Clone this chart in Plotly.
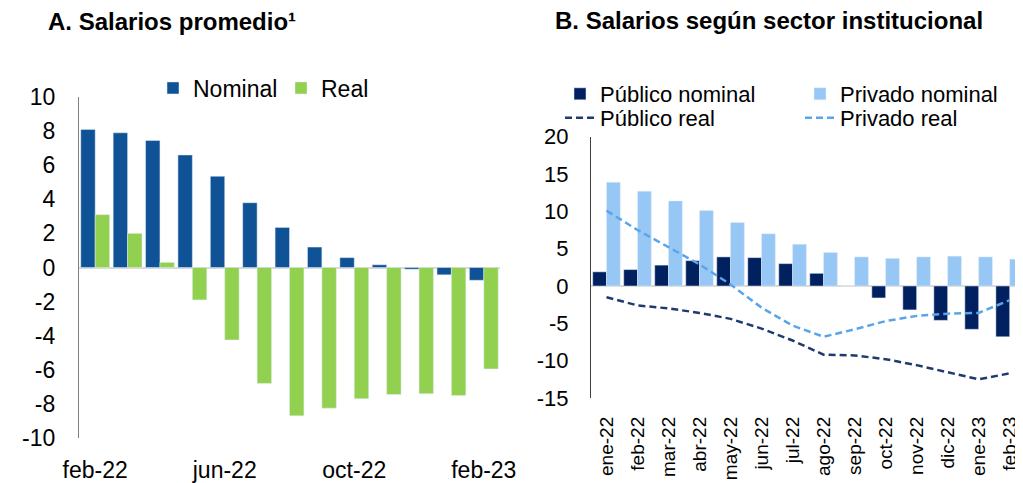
import plotly.graph_objects as go

# ---- Panel A data ----
months_a = ["feb-22", "mar-22", "abr-22", "may-22", "jun-22", "jul-22", "ago-22",
            "sep-22", "oct-22", "nov-22", "dic-22", "ene-23", "feb-23"]
nominal_a = [8.1, 7.9, 7.45, 6.6, 5.35, 3.8, 2.35, 1.2, 0.58, 0.16, -0.1, -0.43, -0.75]
real_a = [3.1, 2.0, 0.3, -1.9, -4.25, -6.8, -8.7, -8.25, -7.7, -7.45, -7.4, -7.5, -5.95]
ticks_a = ["feb-22", "jun-22", "oct-22", "feb-23"]
yvals_a = [-10, -8, -6, -4, -2, 0, 2, 4, 6, 8, 10]
ytext_a = ["-10", "-8", "-6", "-4", "-2", "0", "2", "4", "6", "8", "10"]

# ---- Panel B data ----
months_b = ["ene-22", "feb-22", "mar-22", "abr-22", "may-22", "jun-22", "jul-22",
            "ago-22", "sep-22", "oct-22", "nov-22", "dic-22", "ene-23", "feb-23"]
pub_nominal = [1.9, 2.2, 2.8, 3.4, 3.9, 3.8, 3.0, 1.7, 0.0, -1.6, -3.2, -4.6, -5.8, -6.8]
priv_nominal = [13.9, 12.7, 11.4, 10.1, 8.5, 7.0, 5.6, 4.5, 3.9, 3.7, 3.9, 4.0, 3.9, 3.6]
pub_real = [-1.5, -2.6, -3.0, -3.6, -4.4, -5.7, -7.3, -9.2, -9.3, -9.8, -10.6, -11.5, -12.5, -11.7]
priv_real = [10.1, 7.5, 5.2, 2.9, 0.2, -2.9, -5.3, -6.8, -5.8, -4.7, -4.0, -3.7, -3.6, -1.9]
yvals_b = [-15, -10, -5, 0, 5, 10, 15, 20]
ytext_b = ["-15", "-10", "-5", "0", "5", "10", "15", "20"]

FONT = "Liberation Sans, Arial, sans-serif"
OFF = 8  # page body margin
W, H = 1015, 475


def fx(px):
    return (px - OFF) / W


def fy(py):
    return 1 - (py - OFF) / H


fig = go.Figure()

# Panel A
fig.add_trace(go.Bar(x=months_a, y=nominal_a, name="Nominal", marker_color="#0F5396",
                     xaxis="x", yaxis="y", legend="legend", legendwidth=83))
fig.add_trace(go.Bar(x=months_a, y=real_a, name="Real", marker_color="#92D050",
                     xaxis="x", yaxis="y", legend="legend", legendwidth=52))

# Panel B
fig.add_trace(go.Bar(x=months_b, y=pub_nominal, name="Público nominal", marker_color="#002060",
                     xaxis="x2", yaxis="y2", legend="legend2", legendwidth=195))
fig.add_trace(go.Bar(x=months_b, y=priv_nominal, name="Privado nominal", marker_color="#97C7F5",
                     xaxis="x2", yaxis="y2", legend="legend2", legendwidth=170))
fig.add_trace(go.Scatter(x=months_b, y=pub_real, name="Público real", mode="lines",
                         line=dict(color="#1F3A6E", width=2.5, dash="7px,4px"),
                         xaxis="x2", yaxis="y2", legend="legend3", legendwidth=195))
fig.add_trace(go.Scatter(x=months_b, y=priv_real, name="Privado real", mode="lines",
                         line=dict(color="#5AA5EA", width=2.5, dash="7px,4px"),
                         xaxis="x2", yaxis="y2", legend="legend3", legendwidth=130))

ax_common = dict(showgrid=False, automargin=False, fixedrange=True)

fig.update_layout(
    width=W, height=H,
    margin=dict(l=0, r=0, t=0, b=0, autoexpand=False),
    paper_bgcolor="white", plot_bgcolor="white",
    font=dict(family=FONT, color="#000000", size=22),
    barmode="group", bargap=0.11, bargroupgap=0.0,
    xaxis=dict(domain=[fx(79), fx(500)], anchor="y", type="category",
               range=[-0.5, 12.5], tickmode="array", tickvals=ticks_a, ticktext=ticks_a,
               showline=False, ticks="", tickfont=dict(size=23), ticklabelstandoff=16,
               zeroline=False, **ax_common),
    yaxis=dict(domain=[fy(438), fy(97)], anchor="x", range=[-10, 10],
               tickmode="array", tickvals=yvals_a, ticktext=ytext_a,
               showline=True, linecolor="#7F7F7F", linewidth=1.2, ticks="",
               tickfont=dict(size=23), ticklabelstandoff=18,
               zeroline=True, zerolinecolor="#D9D9D9", zerolinewidth=1.5, **ax_common),
    xaxis2=dict(domain=[fx(591), 1.0], anchor="y2", type="category",
                range=[-0.5, 13.43], tickangle=-90, showline=False, ticks="",
                tickfont=dict(size=19), ticklabelstandoff=14, zeroline=False, **ax_common),
    yaxis2=dict(domain=[fy(398), fy(136.7)], anchor="x2", range=[-15, 20],
                tickmode="array", tickvals=yvals_b, ticktext=ytext_b,
                showline=True, linecolor="#404040", linewidth=1.2, ticks="",
                tickfont=dict(size=22), ticklabelstandoff=17,
                zeroline=True, zerolinecolor="#D9D9D9", zerolinewidth=1.5, **ax_common),
    legend=dict(orientation="h", x=fx(153), y=fy(88), xanchor="left", yanchor="middle",
                font=dict(size=23), bgcolor="rgba(0,0,0,0)", itemwidth=30,
                traceorder="normal", tracegroupgap=0),
    legend2=dict(orientation="h", x=fx(560), y=fy(94), xanchor="left", yanchor="middle",
                 font=dict(size=22), bgcolor="rgba(0,0,0,0)", itemwidth=30,
                 traceorder="normal"),
    legend3=dict(orientation="h", x=fx(560), y=fy(118), xanchor="left", yanchor="middle",
                 font=dict(size=22), bgcolor="rgba(0,0,0,0)", itemwidth=30,
                 traceorder="normal"),
    annotations=[
        dict(text="<b>A. Salarios promedio¹</b>", x=fx(46), y=fy(21),
             xref="paper", yref="paper", xanchor="left", yanchor="middle",
             showarrow=False, font=dict(size=24, family=FONT)),
        dict(text="<b>B. Salarios según sector institucional</b>", x=fx(553), y=fy(20),
             xref="paper", yref="paper", xanchor="left", yanchor="middle",
             showarrow=False, font=dict(size=24, family=FONT)),
    ],
)

fig.write_html("out.html")
